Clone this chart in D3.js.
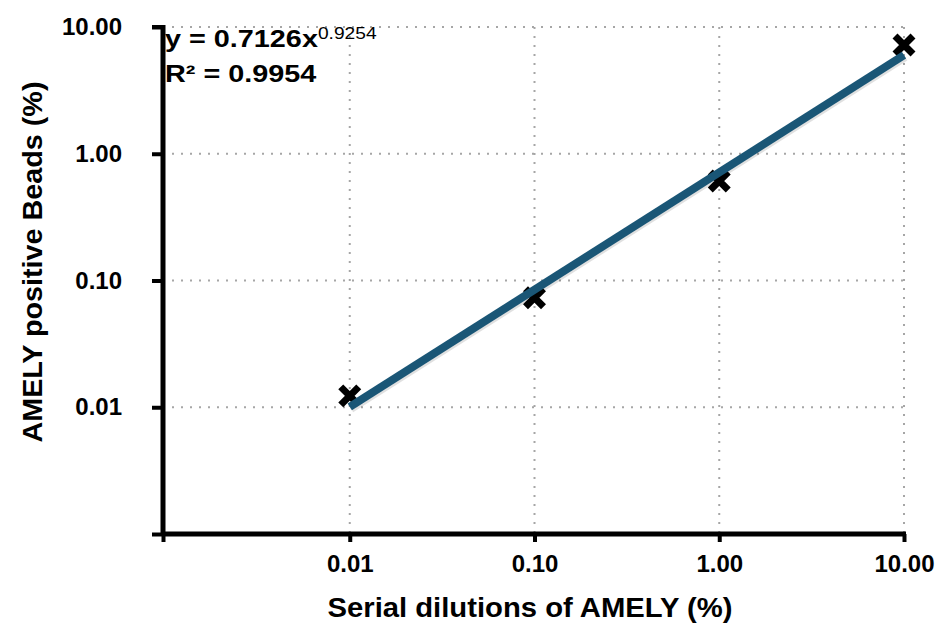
<!DOCTYPE html>
<html><head><meta charset="utf-8">
<script src="https://cdn.jsdelivr.net/npm/d3@7"></script>
<style>
body{margin:0;background:#fff;}
text{font-family:"Liberation Sans",Arial,sans-serif;font-weight:bold;fill:#000;}
</style></head>
<body><svg id="c" width="948" height="626"></svg>
<script>
const dilutions = [0.01, 0.1, 1, 10];
const positiveBeads = [0.0123, 0.073, 0.61, 7.2];
const tickValues = [0.001, 0.01, 0.1, 1, 10];
const tickLabels = ["", "0.01", "0.10", "1.00", "10.00"];
const fitA = 0.7126, fitB = 0.9254, fitR2 = 0.9954;
const fitRange = [0.01, 10];

const svg = d3.select("#c");
const x = d3.scaleLog().domain([0.001, 10]).range([165, 904]);
const y = d3.scaleLog().domain([0.001, 10]).range([534, 27]);
const X0 = 163, Y0 = 534;

// grid
const grid = svg.append("g").attr("stroke", "#a6a6a6").attr("stroke-width", 2).attr("stroke-dasharray", "2,7");
grid.selectAll(".vg").data(tickValues.slice(1)).join("line")
  .attr("x1", d => x(d)).attr("x2", d => x(d)).attr("y1", y(10)).attr("y2", Y0);
grid.selectAll(".hg").data(tickValues.slice(1)).join("line")
  .attr("x1", X0).attr("x2", x(10)).attr("y1", d => y(d)).attr("y2", d => y(d));

// markers
const sz = 9;
const mk = svg.append("g").attr("stroke", "#000").attr("stroke-width", 7);
dilutions.forEach((d, i) => {
  const cx = x(d), cy = y(positiveBeads[i]);
  mk.append("path").attr("d", `M${cx-sz},${cy-sz}L${cx+sz},${cy+sz}M${cx-sz},${cy+sz}L${cx+sz},${cy-sz}`);
});

// fit line
const fitPts = fitRange.map(v => [v, fitA * Math.pow(v, fitB)]);
const line = d3.line().x(d => x(d[0])).y(d => y(d[1]));
svg.append("path").attr("d", line(fitPts)).attr("fill", "none")
  .attr("stroke", "rgba(0,0,0,0.12)").attr("stroke-width", 9).attr("transform", "translate(1,1.5)");
svg.append("path").attr("d", line(fitPts)).attr("fill", "none")
  .attr("stroke", "#1a5676").attr("stroke-width", 8);

// axes
const xAxis = d3.axisBottom(x).tickValues(tickValues).tickFormat((d, i) => tickLabels[i]).tickSize(8).tickPadding(13);
const gx = svg.append("g").attr("transform", `translate(0,${Y0})`).call(xAxis);
const yAxis = d3.axisLeft(y).tickValues(tickValues).tickFormat((d, i) => tickLabels[i]).tickSize(11).tickPadding(30);
const gy = svg.append("g").attr("transform", `translate(${X0},0)`).call(yAxis);
[gx, gy].forEach(g => {
  g.select(".domain").remove();
  g.selectAll(".tick line").attr("stroke", "#000").attr("stroke-width", 4);
  g.selectAll(".tick text").attr("font-size", 24).attr("fill", "#000");
});
gx.selectAll(".tick text").attr("dy", "0.71em");
gx.select(".tick line").attr("transform", `translate(${X0 - x(0.001)},0)`);
svg.append("line").attr("x1", X0).attr("x2", x(10) + 2).attr("y1", Y0).attr("y2", Y0).attr("stroke", "#000").attr("stroke-width", 5);
svg.append("line").attr("x1", X0).attr("x2", X0).attr("y1", y(10) - 2).attr("y2", Y0 + 2).attr("stroke", "#000").attr("stroke-width", 5);
svg.append("line").attr("x1", X0 - 11).attr("x2", X0).attr("y1", y(10)).attr("y2", y(10)).attr("stroke", "#000").attr("stroke-width", 4);

// titles
svg.append("text").attr("x", 530).attr("y", 617).attr("text-anchor", "middle").attr("font-size", 28)
  .attr("textLength", 405).attr("lengthAdjust", "spacingAndGlyphs")
  .text("Serial dilutions of AMELY (%)");
svg.append("text").attr("transform", "translate(42,262) rotate(-90)").attr("text-anchor", "middle").attr("font-size", 27)
  .attr("textLength", 361).attr("lengthAdjust", "spacingAndGlyphs")
  .text("AMELY positive Beads (%)");

// equation
const eqG = svg.append("g").attr("transform", "translate(165,0) scale(1.2,1)");
const eq = eqG.append("text").attr("x", 0).attr("y", 47).attr("font-size", 24);
eq.append("tspan").text(`y = ${fitA}x`);
eq.append("tspan").attr("dy", -8).attr("font-size", 16).attr("font-weight", "normal").text(fitB);
eqG.append("text").attr("x", 0).attr("y", 82).attr("font-size", 24).text(`R² = ${fitR2}`);
</script></body></html>
